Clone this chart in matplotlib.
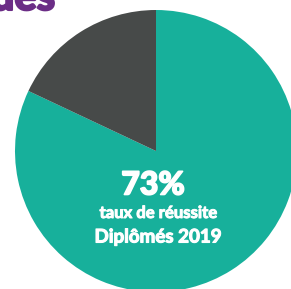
import matplotlib
matplotlib.use("Agg")
import matplotlib.pyplot as plt
import matplotlib.patheffects as pe

# shares as drawn in the pie (teal = success, dark = rest)
labels = ["réussite", "autres"]
values = [82, 18]
colors = ["#17b09b", "#474a49"]

big_text = "73%"
line1 = "taux de réussite"
line2 = "Diplômés 2019"
title_tail = "ques"

fig = plt.figure(figsize=(2.91, 2.89), dpi=100)
ax = fig.add_axes([0, 0, 1, 1])

ax.pie(values, colors=colors, startangle=90, counterclock=False,
       center=(156, 138), radius=141,
       wedgeprops=dict(linewidth=0))
ax.set_xlim(0, 291)
ax.set_ylim(0, 289)
ax.set_aspect("equal")
ax.axis("off")

heavy = [pe.withStroke(linewidth=1.2, foreground="white")]
ax.text(153, 104, big_text, color="white", fontsize=23, fontweight="black",
        family="Lato", ha="center", va="center", path_effects=heavy)
ax.text(158, 76, line1, color="white", fontsize=12, fontweight="bold",
        family="Lato", ha="center", va="center",
        path_effects=[pe.withStroke(linewidth=0.7, foreground="white")])
ax.text(158, 52, line2, color="white", fontsize=13.5, fontweight="bold",
        family="Lato", ha="center", va="center",
        path_effects=[pe.withStroke(linewidth=0.8, foreground="white")])

# cut-off heading in the top-left corner
ax.text(-33, 279, title_tail, color="#6b2d86", fontsize=30, fontweight="black",
        family="Lato", ha="left", va="baseline",
        path_effects=[pe.withStroke(linewidth=1.5, foreground="#6b2d86")])

fig.savefig("out.png", dpi=100)
